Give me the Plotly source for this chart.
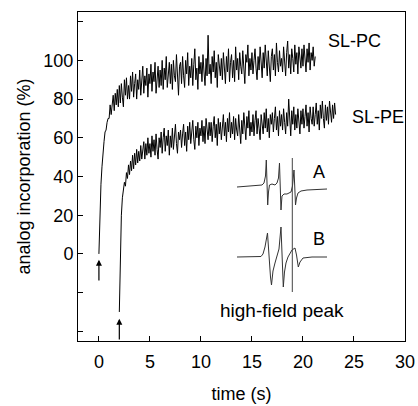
import plotly.graph_objects as go

# ---------------- data ----------------
# SL-PC trace, sampled every 0.1 s starting at t = 0 s
PC_T0 = 0.0
PC_DT = 0.1
PC = [
    0, 21, 36, 45, 55, 58, 63, 64, 68, 70,
    70, 77, 72, 79, 82, 74, 83, 77, 85, 76,
    87, 78, 88, 81, 76, 90, 82, 91, 80, 87,
    80, 92, 84, 94, 81, 88, 93, 80, 90, 85,
    95, 82, 91, 97, 83, 92, 87, 96, 81, 93,
    88, 98, 84, 94, 89, 99, 83, 93, 97, 86,
    95, 87, 100, 85, 96, 90, 102, 86, 93, 99,
    88, 98, 85, 100, 92, 89, 103, 91, 82, 97,
    99, 88, 102, 92, 86, 100, 93, 104, 87, 97,
    91, 101, 87, 98, 106, 90, 96, 85, 102, 93,
    99, 89, 103, 94, 87, 101, 92, 113, 93, 98,
    88, 102, 94, 105, 91, 99, 86, 103, 95, 92,
    101, 90, 104, 96, 88, 102, 94, 106, 89, 99,
    103, 91, 100, 89, 107, 95, 101, 90, 104, 97,
    93, 105, 97, 88, 103, 99, 108, 92, 101, 95,
    104, 93, 100, 106, 96, 90, 102, 95, 107, 98,
    91, 104, 96, 108, 100, 92, 105, 97, 89, 102,
    106, 95, 103, 92, 109, 99, 94, 105, 97, 101,
    94, 107, 99, 92, 104, 110, 96, 103, 93, 106,
    101, 94, 108, 98, 104, 93, 107, 100, 96, 106,
    97, 108, 101, 94, 106, 99, 109, 95, 104, 100,
    107, 97, 102,
]

# SL-PE trace, sampled every 0.1 s starting at t = 2 s
PE_T0 = 2.0
PE_DT = 0.1
PE = [
    -30, 5, 20, 29, 32, 37, 35, 42, 39, 46,
    41, 48, 43, 51, 44, 52, 46, 54, 47, 53,
    48, 56, 49, 55, 58, 49, 57, 51, 60, 52,
    57, 50, 61, 53, 59, 51, 62, 54, 49, 60,
    55, 63, 52, 60, 65, 53, 61, 56, 64, 51,
    61, 55, 65, 54, 62, 67, 57, 52, 63, 59,
    64, 55, 62, 67, 56, 63, 53, 66, 59, 68,
    57, 64, 69, 59, 54, 66, 60, 68, 56, 65,
    61, 69, 58, 66, 57, 70, 62, 59, 68, 61,
    68, 58, 66, 71, 60, 67, 56, 70, 62, 68,
    59, 67, 72, 61, 68, 58, 70, 63, 73, 60,
    68, 62, 71, 59, 70, 64, 61, 72, 66, 57,
    69, 62, 73, 64, 59, 71, 65, 74, 61, 68,
    63, 72, 61, 69, 74, 62, 70, 65, 59, 72,
    68, 62, 73, 65, 75, 63, 70, 60, 72, 67,
    73, 63, 70, 76, 64, 71, 61, 74, 66, 72,
    64, 75, 68, 62, 73, 66, 80, 69, 61, 74,
    67, 76, 64, 72, 65, 75, 69, 62, 74, 67,
    75, 65, 71, 77, 66, 73, 63, 76, 70, 67,
    76, 66, 72, 78, 67, 74, 64, 77, 70, 79,
    70, 65, 77, 69, 76, 67, 79, 72, 68, 77,
    70, 78, 72,
]

# Inset ESR spectra (field position, arbitrary units; signal, arbitrary units)
SPEC_A_FIELD = [0, 10, 20, 25, 27, 28.5, 29.3, 30, 30.7, 31.5, 32.5, 35, 38, 40,
                41.5, 42.5, 43.3, 44, 45, 47, 50, 52, 54, 55.5, 57, 57.8, 58.5,
                59.5, 61, 64, 70, 80, 90]
SPEC_A_SIGNAL = [1, 1.5, 2, 3, 5, 12, 28, 5, -17, -4, 3, 4, 3, 5,
                 10, 25, 0, -22, -8, -6, -6, -5, -4, 2, 18, 0, -17,
                 -10, -5, -3, -2, -1.5, -1]
SPEC_B_FIELD = [0, 15, 24, 26, 28, 30.5, 31.5, 33.5, 34.5, 36, 38, 40, 42, 44,
                45, 46.3, 47.5, 49, 51, 53, 55, 58, 59.5, 61.3, 63, 66, 75, 90]
SPEC_B_SIGNAL = [0, 0, 0.5, 3, 10, 24, 5, -20, -28, -14, -6, 0, 8, 30,
                 5, -30, -15, -6, 0, 4, 7, 9, 2, -10, -5, -1, 0, 0]
SPEC_A_OFFSET = 69
SPEC_B_OFFSET = 0
HIGH_FIELD_X = 55.3
HIGH_FIELD_SPAN = [-35, 99]

X_TICKS = [0, 5, 10, 15, 20, 25, 30]
Y_TICKS = [-40, -20, 0, 20, 40, 60, 80, 100, 120]
Y_TICKTEXT = ["", "", "0", "20", "40", "60", "80", "100", ""]

# ---------------- figure ----------------
FONT = "Liberation Sans, Arial, sans-serif"
pc_t = [PC_T0 + i * PC_DT for i in range(len(PC))]
pe_t = [PE_T0 + i * PE_DT for i in range(len(PE))]

fig = go.Figure()
fig.add_trace(go.Scatter(x=pc_t, y=PC, mode="lines",
                         line=dict(color="black", width=1), name="SL-PC"))
fig.add_trace(go.Scatter(x=pe_t, y=PE, mode="lines",
                         line=dict(color="black", width=1), name="SL-PE"))

# inset spectra
fig.add_trace(go.Scatter(x=SPEC_A_FIELD, y=[v + SPEC_A_OFFSET for v in SPEC_A_SIGNAL],
                         mode="lines", line=dict(color="#333", width=1),
                         xaxis="x2", yaxis="y2", name="A"))
fig.add_trace(go.Scatter(x=SPEC_B_FIELD, y=[v + SPEC_B_OFFSET for v in SPEC_B_SIGNAL],
                         mode="lines", line=dict(color="#333", width=1),
                         xaxis="x2", yaxis="y2", name="B"))
fig.add_trace(go.Scatter(x=[HIGH_FIELD_X, HIGH_FIELD_X], y=HIGH_FIELD_SPAN,
                         mode="lines", line=dict(color="#444", width=1),
                         xaxis="x2", yaxis="y2", name="high-field"))

axis_common = dict(showgrid=False, zeroline=False, showline=True, linecolor="black",
                   linewidth=1, mirror=True, ticks="inside", ticklen=5, automargin=False,
                   tickcolor="black", tickfont=dict(size=18, family=FONT, color="black"))

fig.update_layout(
    width=418, height=406,
    margin=dict(l=78, r=13, t=12, b=65),
    plot_bgcolor="white", paper_bgcolor="white",
    showlegend=False,
    font=dict(family=FONT, size=18, color="black"),
    xaxis=dict(range=[-2.05, 30], tickvals=X_TICKS, ticklabelstandoff=4, **axis_common,
               title=dict(text="time (s)", font=dict(size=18, family=FONT), standoff=16)),
    yaxis=dict(range=[-45, 125], tickvals=Y_TICKS, ticktext=Y_TICKTEXT, **axis_common,
               title=dict(text="analog incorporation (%)", font=dict(size=18, family=FONT), standoff=8)),
    xaxis2=dict(domain=[0.4862, 0.7615], range=[0, 90], visible=False, anchor="y2"),
    yaxis2=dict(domain=[0.1246, 0.5805], range=[-43, 107], visible=False, anchor="x2"),
)

annotations = [
    dict(x=22.3, y=109.8, xref="x", yref="y", text="SL-PC", showarrow=False,
         xanchor="left", yanchor="middle", font=dict(size=18, family=FONT)),
    dict(x=24.6, y=71, xref="x", yref="y", text="SL-PE", showarrow=False,
         xanchor="left", yanchor="middle", font=dict(size=18, family=FONT)),
    dict(x=82, y=85, xref="x2", yref="y2", text="A", showarrow=False,
         xanchor="center", yanchor="middle", font=dict(size=18, family=FONT)),
    dict(x=82, y=18, xref="x2", yref="y2", text="B", showarrow=False,
         xanchor="center", yanchor="middle", font=dict(size=18, family=FONT)),
    dict(x=17.94, y=-29.3, xref="x", yref="y", text="high-field peak", showarrow=False,
         xanchor="center", yanchor="middle", font=dict(size=19, family=FONT)),
    # injection arrows
    dict(x=0, y=-3, ax=0, ay=-14.5, xref="x", yref="y", axref="x", ayref="y",
         showarrow=True, arrowhead=2, arrowsize=1, arrowwidth=1.2, arrowcolor="black", text=""),
    dict(x=2, y=-33.5, ax=2, ay=-45, xref="x", yref="y", axref="x", ayref="y",
         showarrow=True, arrowhead=2, arrowsize=1, arrowwidth=1.2, arrowcolor="black", text=""),
]
fig.update_layout(annotations=annotations)

fig.write_html("out.html", post_script="document.body.style.margin='0';",
               config={"displayModeBar": False})
